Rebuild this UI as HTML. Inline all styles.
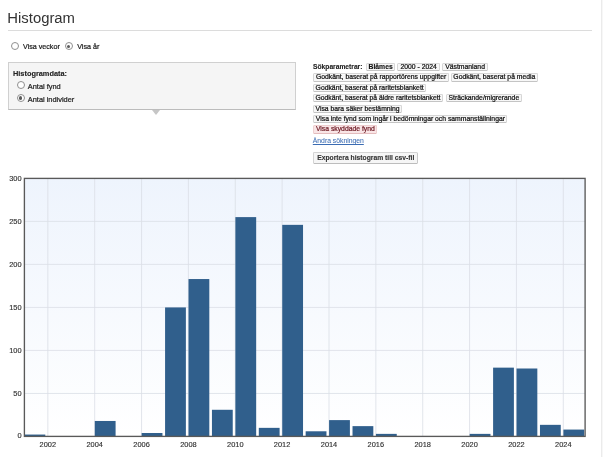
<!DOCTYPE html>
<html lang="sv"><head><meta charset="utf-8"><title>Histogram</title>
<style>
html,body{margin:0;padding:0;background:#fff;}
body{width:603px;height:457px;position:relative;overflow:hidden;font-family:"Liberation Sans",Arial,sans-serif;color:#333;}
.abs{position:absolute;white-space:nowrap;}
h1{-webkit-text-stroke:0;position:absolute;left:7.35px;top:8.4px;margin:0;font-weight:normal;font-size:14.85px;line-height:20px;color:#333}
.hr{position:absolute;left:7.5px;top:30.1px;width:584.5px;height:1.1px;background:#dcdcdc}
.t{font-size:7.4px;line-height:9px;color:#222}
.radio{position:absolute;width:6.2px;height:6.2px;border:0.8px solid #8f8f8f;border-radius:50%;background:#fff;box-sizing:content-box}
.radio.on::after{content:"";position:absolute;left:1.3px;top:1.3px;width:3.6px;height:3.6px;border-radius:50%;background:#5a5a5a}
.box{position:absolute;left:8px;top:62px;width:288px;height:47.8px;background:#f5f5f5;border:0.8px solid #d0d0d0;border-bottom-color:#bcbcbc;box-sizing:border-box}
.tri{position:absolute;left:151.9px;top:109.7px;width:0;height:0;border-left:4.6px solid transparent;border-right:4.6px solid transparent;border-top:5.6px solid #c6c6c6}
.tag{position:absolute;box-sizing:border-box;height:8.3px;border:0.6px solid #d6d6d6;border-bottom-color:#c4c4c4;border-radius:1.5px;background:#f7f7f7;font-size:6.8px;line-height:6.5px;text-align:center;white-space:nowrap;color:#111;overflow:visible}
.tag.pink{background:#f9e5e6;border-color:#efcfd0;border-bottom-color:#e4bcbd;color:#6f1c26}
.btn{-webkit-text-stroke:0.12px currentColor;position:absolute;left:313.1px;top:152.1px;width:105.3px;height:12.1px;box-sizing:border-box;border:0.8px solid #d4d4d4;border-bottom-color:#bdbdbd;border-right-color:#c8c8c8;border-radius:1.5px;background:#f6f6f6;font-size:6.75px;line-height:10.4px;font-weight:bold;text-align:center;color:#333;white-space:nowrap}
a.lnk{-webkit-text-stroke:0.05px currentColor;color:#3b6cb3;text-decoration:underline;text-decoration-thickness:0.5px;text-underline-offset:0.8px;font-size:6.8px}
.edge{position:absolute;left:601px;top:0;width:2px;height:457px;background:#f7f7f7;border-left:1px solid #ebebeb;box-sizing:border-box}
.wrap{-webkit-text-stroke:0.22px currentColor;position:absolute;left:0;top:0;width:603px;height:457px;will-change:transform;transform:translateZ(0)}
</style></head><body>
<div class="wrap">
<h1>Histogram</h1>
<div class="hr"></div>
<span class="radio" style="left:11.2px;top:42.3px"></span>
<span class="abs t" style="left:23px;top:42.5px;font-size:7.15px">Visa veckor</span>
<span class="radio on" style="left:64.6px;top:42.3px"></span>
<span class="abs t" style="left:77.2px;top:42.5px;font-size:7.15px">Visa år</span>
<div class="box"></div>
<span class="abs t" style="left:13px;top:68.7px;font-weight:bold;font-size:7.36px;-webkit-text-stroke:0.12px currentColor">Histogramdata:</span>
<span class="radio" style="left:16.6px;top:80.6px"></span>
<span class="abs t" style="left:27.8px;top:81.6px">Antal fynd</span>
<span class="radio on" style="left:16.6px;top:93.8px"></span>
<span class="abs t" style="left:27.8px;top:94.5px">Antal individer</span>
<div class="tri"></div>
<span class="abs t" style="left:313.1px;top:61.6px;font-weight:bold;font-size:6.68px;-webkit-text-stroke:0.12px currentColor">Sökparametrar:</span>
<span class="tag " style="left:365.80px;top:62.9px;width:29.70px"><b style="-webkit-text-stroke:0.12px currentColor">Blåmes</b></span>
<span class="tag " style="left:397.10px;top:62.9px;width:43.10px">2000 - 2024</span>
<span class="tag " style="left:442.20px;top:62.9px;width:45.80px">Västmanland</span>
<span class="tag " style="left:313.30px;top:73.35px;width:135.60px">Godkänt, baserat på rapportörens uppgifter</span>
<span class="tag " style="left:450.80px;top:73.35px;width:87.10px">Godkänt, baserat på media</span>
<span class="tag " style="left:313.30px;top:83.75px;width:112.70px">Godkänt, baserat på raritetsblankett</span>
<span class="tag " style="left:313.30px;top:94.15px;width:129.40px">Godkänt, baserat på äldre raritetsblankett</span>
<span class="tag " style="left:445.80px;top:94.15px;width:76.10px">Sträckande/migrerande</span>
<span class="tag " style="left:313.30px;top:104.55px;width:88.60px">Visa bara säker bestämning</span>
<span class="tag " style="left:313.30px;top:115.0px;width:194.20px">Visa inte fynd som ingår i bedömningar och sammanställningar</span>
<span class="tag pink" style="left:313.30px;top:125.4px;width:64.10px">Visa skyddade fynd</span>
<a class="abs t lnk" style="left:312.8px;top:136.2px" href="#">Ändra sökningen</a>
<div class="btn">Exportera histogram till csv-fil</div>
<svg id="chart" width="603" height="457" viewBox="0 0 603 457" style="position:absolute;left:0;top:0">
<defs><linearGradient id="bg" x1="0" y1="0" x2="0" y2="1"><stop offset="0" stop-color="#eef4fd"/><stop offset="1" stop-color="#ffffff"/></linearGradient></defs>
<rect x="24.4" y="178.4" width="560.7" height="258.0" fill="url(#bg)"/>
<line x1="47.83" y1="178.4" x2="47.83" y2="436.4" stroke="#dadee6" stroke-width="0.8"/>
<line x1="94.69" y1="178.4" x2="94.69" y2="436.4" stroke="#dadee6" stroke-width="0.8"/>
<line x1="141.55" y1="178.4" x2="141.55" y2="436.4" stroke="#dadee6" stroke-width="0.8"/>
<line x1="188.41" y1="178.4" x2="188.41" y2="436.4" stroke="#dadee6" stroke-width="0.8"/>
<line x1="235.27" y1="178.4" x2="235.27" y2="436.4" stroke="#dadee6" stroke-width="0.8"/>
<line x1="282.13" y1="178.4" x2="282.13" y2="436.4" stroke="#dadee6" stroke-width="0.8"/>
<line x1="328.99" y1="178.4" x2="328.99" y2="436.4" stroke="#dadee6" stroke-width="0.8"/>
<line x1="375.85" y1="178.4" x2="375.85" y2="436.4" stroke="#dadee6" stroke-width="0.8"/>
<line x1="422.71" y1="178.4" x2="422.71" y2="436.4" stroke="#dadee6" stroke-width="0.8"/>
<line x1="469.57" y1="178.4" x2="469.57" y2="436.4" stroke="#dadee6" stroke-width="0.8"/>
<line x1="516.43" y1="178.4" x2="516.43" y2="436.4" stroke="#dadee6" stroke-width="0.8"/>
<line x1="563.29" y1="178.4" x2="563.29" y2="436.4" stroke="#dadee6" stroke-width="0.8"/>
<line x1="24.4" y1="393.44" x2="585.1" y2="393.44" stroke="#dadee6" stroke-width="0.8"/>
<line x1="24.4" y1="350.43" x2="585.1" y2="350.43" stroke="#dadee6" stroke-width="0.8"/>
<line x1="24.4" y1="307.43" x2="585.1" y2="307.43" stroke="#dadee6" stroke-width="0.8"/>
<line x1="24.4" y1="264.42" x2="585.1" y2="264.42" stroke="#dadee6" stroke-width="0.8"/>
<line x1="24.4" y1="221.41" x2="585.1" y2="221.41" stroke="#dadee6" stroke-width="0.8"/>
<rect x="24.50" y="434.56" width="20.80" height="1.89" fill="#305f8c"/>
<rect x="94.79" y="420.97" width="20.80" height="15.48" fill="#305f8c"/>
<rect x="141.65" y="433.01" width="20.80" height="3.44" fill="#305f8c"/>
<rect x="165.08" y="307.43" width="20.80" height="129.02" fill="#305f8c"/>
<rect x="188.51" y="279.04" width="20.80" height="157.41" fill="#305f8c"/>
<rect x="211.94" y="409.78" width="20.80" height="26.67" fill="#305f8c"/>
<rect x="235.37" y="217.11" width="20.80" height="219.34" fill="#305f8c"/>
<rect x="258.80" y="427.85" width="20.80" height="8.60" fill="#305f8c"/>
<rect x="282.23" y="224.85" width="20.80" height="211.60" fill="#305f8c"/>
<rect x="305.66" y="431.29" width="20.80" height="5.16" fill="#305f8c"/>
<rect x="329.09" y="420.11" width="20.80" height="16.34" fill="#305f8c"/>
<rect x="352.52" y="426.13" width="20.80" height="10.32" fill="#305f8c"/>
<rect x="375.95" y="433.87" width="20.80" height="2.58" fill="#305f8c"/>
<rect x="469.67" y="433.87" width="20.80" height="2.58" fill="#305f8c"/>
<rect x="493.10" y="367.64" width="20.80" height="68.81" fill="#305f8c"/>
<rect x="516.53" y="368.50" width="20.80" height="67.95" fill="#305f8c"/>
<rect x="539.96" y="424.84" width="20.80" height="11.61" fill="#305f8c"/>
<rect x="563.39" y="429.57" width="20.80" height="6.88" fill="#305f8c"/>
<rect x="24.4" y="178.4" width="560.7" height="258.0" fill="none" stroke="#595959" stroke-width="1.35"/>
<g font-family="Liberation Sans, Arial, sans-serif" font-size="7.4" fill="#303030" stroke="#303030" stroke-width="0.14">
<text x="21.5" y="437.90" text-anchor="end">0</text>
<text x="21.5" y="395.69" text-anchor="end">50</text>
<text x="21.5" y="352.68" text-anchor="end">100</text>
<text x="21.5" y="309.68" text-anchor="end">150</text>
<text x="21.5" y="266.67" text-anchor="end">200</text>
<text x="21.5" y="223.66" text-anchor="end">250</text>
<text x="21.5" y="180.65" text-anchor="end">300</text>
<text x="47.8" y="447.2" text-anchor="middle">2002</text>
<text x="94.7" y="447.2" text-anchor="middle">2004</text>
<text x="141.6" y="447.2" text-anchor="middle">2006</text>
<text x="188.4" y="447.2" text-anchor="middle">2008</text>
<text x="235.3" y="447.2" text-anchor="middle">2010</text>
<text x="282.1" y="447.2" text-anchor="middle">2012</text>
<text x="329.0" y="447.2" text-anchor="middle">2014</text>
<text x="375.8" y="447.2" text-anchor="middle">2016</text>
<text x="422.7" y="447.2" text-anchor="middle">2018</text>
<text x="469.6" y="447.2" text-anchor="middle">2020</text>
<text x="516.4" y="447.2" text-anchor="middle">2022</text>
<text x="563.3" y="447.2" text-anchor="middle">2024</text>
</g>
</svg>
<div class="edge"></div>
</div>
</body></html>
